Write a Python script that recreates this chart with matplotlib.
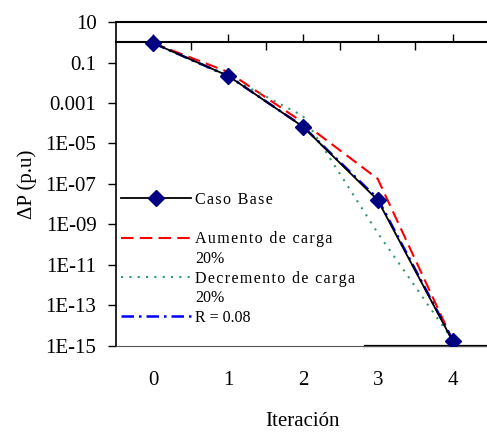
import matplotlib
matplotlib.use('Agg')
import matplotlib.pyplot as plt
from matplotlib.lines import Line2D
from matplotlib.ticker import FixedLocator, FixedFormatter

# Datos
iteracion = [0, 1, 2, 3, 4]
caso_base = [0.9, 0.022, 6.8e-05, 1.6e-08, 1.8e-15]
aumento = [0.9, 0.034, 1.1e-04, 1.8e-07, 2.0e-15]
decremento = [0.9, 0.02, 2.3e-04, 3.8e-10, 2.0e-15]
r_008 = [0.9, 0.022, 7.0e-05, 1.9e-08, 2.0e-15]

yticks = [10, 0.1, 0.001, 1e-05, 1e-07, 1e-09, 1e-11, 1e-13, 1e-15]
ytick_labels = ["10", "0.1", "0.001", "1E-05", "1E-07", "1E-09", "1E-11", "1E-13", "1E-15"]


def espaciar(txt):
    # Excel deja un poco de espacio entre letras
    return '\u200a'.join(txt)


plt.rcParams['font.family'] = ['Liberation Serif', 'DejaVu Serif']

fig = plt.figure(figsize=(4.87, 4.34), dpi=100)
ax = fig.add_axes([0.238, 0.2028, 0.768, 0.7465])

l_base, = ax.plot(iteracion, caso_base, color='black', lw=1.3, marker='D', ms=8,
                  mfc='#000080', mec='#000080', zorder=5)
l_aum, = ax.plot(iteracion, aumento, color='#FF0000', lw=1.5, ls=(0, (6, 3)), zorder=3)
l_dec, = ax.plot(iteracion, decremento, color='#339966', lw=1.5, ls=(0, (1, 3)), zorder=3)
l_r, = ax.plot(iteracion, r_008, color='#0000FF', lw=1.8, ls=(0, (5, 2, 1, 2)), zorder=4)

ax.set_yscale('log')
ax.set_ylim(1e-15, 10)
ax.set_xlim(-0.5, 4.5)
ax.yaxis.set_major_locator(FixedLocator(yticks))
ax.yaxis.set_major_formatter(FixedFormatter(ytick_labels))
ax.yaxis.set_minor_locator(FixedLocator([]))
ax.tick_params(axis='y', direction='out', length=6, width=1, labelsize=15, pad=8)

ax.set_xticks(iteracion)
ax.tick_params(axis='x', length=0, labelsize=15, pad=18)

ax.spines['right'].set_visible(False)
ax.spines['top'].set_linewidth(1.5)
ax.spines['left'].set_linewidth(1.2)
ax.spines['bottom'].set_color('#555555')
ax.spines['bottom'].set_linewidth(0.8)
ax.axhline(1e-15, xmin=0.666, color='black', lw=1.6, clip_on=False)

# eje de categorías que cruza en 1
sec = ax.secondary_xaxis(15 / 16)
sec.set_xticks(iteracion)
sec.set_xticks([0.5, 1.5, 2.5, 3.5], minor=True)
sec.tick_params(which='major', direction='out', length=6, width=1, labeltop=False, labelbottom=False)
sec.tick_params(which='minor', direction='in', length=6, width=1, labeltop=False, labelbottom=False)
sec.spines['top'].set_linewidth(1.5)

ax.set_xlabel('Iteración', fontsize=15, labelpad=16)
ax.set_ylabel('ΔP (p.u)', fontsize=15, labelpad=6)

# leyenda: la segunda línea de cada etiqueta va como entrada sin símbolo
vacio = Line2D([], [], color='none')
handles = [l_base, vacio, l_aum, vacio, l_dec, vacio, l_r]
labels = [espaciar('Caso Base'), ' ', espaciar('Aumento de carga'), '20%',
          espaciar('Decremento de carga'), '20%', 'R = 0.08']
ax.legend(handles, labels, loc='lower left', bbox_to_anchor=(0.013, 0.062),
          frameon=False, fontsize=11.5, handlelength=4.4, handletextpad=0.25,
          labelspacing=0.23, borderpad=0, borderaxespad=0)

plt.savefig('out.png', dpi=100)
